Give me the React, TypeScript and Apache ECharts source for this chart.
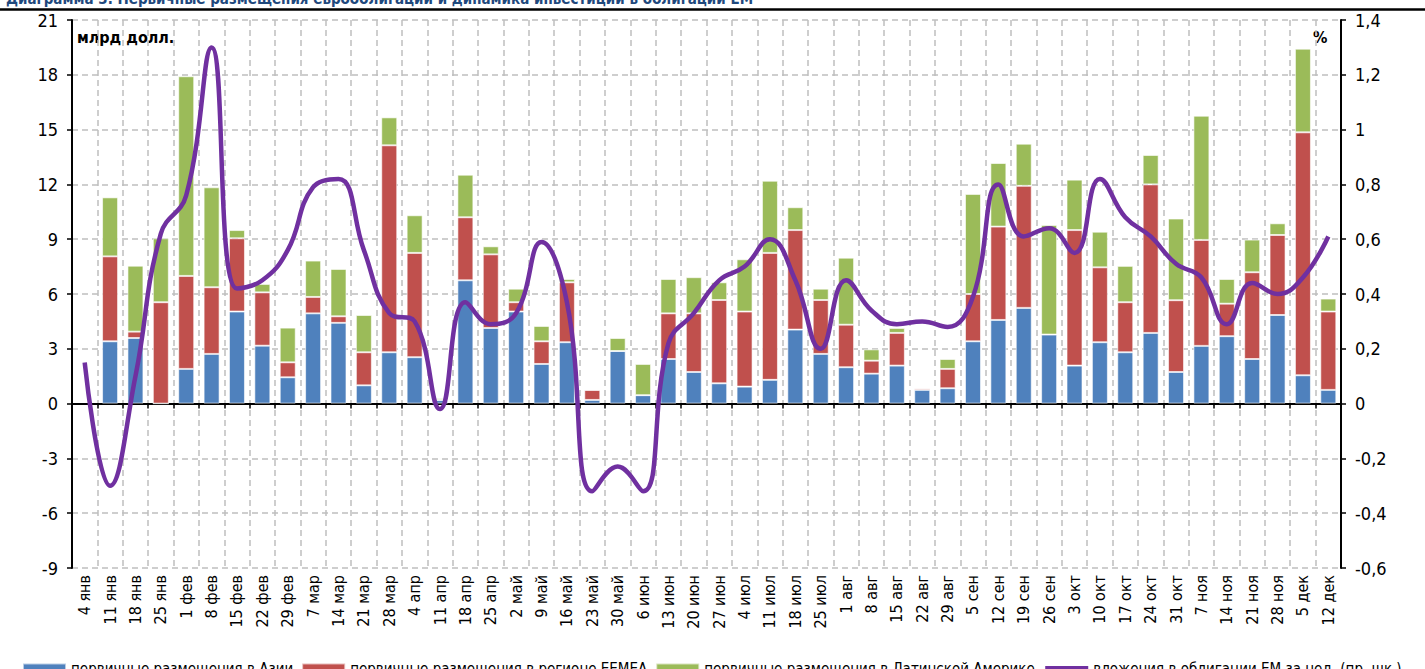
import React, { useEffect, useRef } from "react";
import * as echarts from "echarts";

const categories = ["4 янв","11 янв","18 янв","25 янв","1 фев","8 фев","15 фев","22 фев","29 фев","7 мар","14 мар","21 мар","28 мар","4 апр","11 апр","18 апр","25 апр","2 май","9 май","16 май","23 май","30 май","6 июн","13 июн","20 июн","27 июн","4 июл","11 июл","18 июл","25 июл","1 авг","8 авг","15 авг","22 авг","29 авг","5 сен","12 сен","19 сен","26 сен","3 окт","10 окт","17 окт","24 окт","31 окт","7 ноя","14 ноя","21 ноя","28 ноя","5 дек","12 дек"];

const asia = [null,3.41,3.59,0,1.90,2.72,5.04,3.17,1.44,4.94,4.42,1.00,2.81,2.54,0.20,6.75,4.14,5.04,2.17,3.36,0.20,2.88,0.46,2.44,1.73,1.11,0.93,1.30,4.05,2.72,1.99,1.64,2.08,0.75,0.84,3.41,4.58,5.24,3.78,2.08,3.36,2.81,3.87,1.73,3.16,3.69,2.44,4.85,1.55,0.75];

const eemea = [null,4.65,0.35,5.55,5.09,3.65,4.01,2.92,0.82,0.90,0.36,1.81,11.33,5.71,0,3.45,4.03,0.51,1.24,3.28,0.55,0,0,2.50,3.21,4.56,4.11,6.95,5.45,2.95,2.33,0.71,1.79,0.09,1.06,2.59,5.11,6.68,0,7.42,4.10,2.74,8.13,3.93,5.80,1.78,4.75,4.38,13.30,4.29];

const latam = [null,3.23,3.61,3.50,10.93,5.47,0.45,0.46,1.90,1.99,2.59,2.04,1.53,2.06,0.09,2.33,0.44,0.74,0.84,0.18,0,0.71,1.71,1.88,1.98,0.97,2.86,3.95,1.25,0.62,3.67,0.62,0.27,0,0.54,5.48,3.48,2.31,6.00,2.76,1.95,1.99,1.61,4.47,6.80,1.35,1.79,0.64,4.58,0.71];

const emFlows = [0.15,-0.30,0.10,0.62,0.76,1.30,0.42,0.45,0.56,0.79,0.82,0.56,0.33,0.30,-0.02,0.37,0.29,0.33,0.59,0.37,-0.32,-0.23,-0.32,0.22,0.33,0.45,0.50,0.60,0.45,0.20,0.45,0.34,0.29,0.30,0.28,0.39,0.80,0.61,0.64,0.55,0.82,0.68,0.61,0.51,0.46,0.29,0.44,0.40,0.46,0.61];

const seriesNames = [
  "первичные размещения в Азии",
  "первичные размещения в регионе EEMEA",
  "первичные размещения в Латинской Америке",
  "вложения в облигации EM за нед. (пр. шк.)",
];

const FONT = "'Liberation Sans Narrow', 'DejaVu Sans Condensed', 'Roboto Condensed', sans-serif";

export default function App() {
  const ref = useRef<HTMLDivElement>(null);
  useEffect(() => {
    document.body.style.margin = "0";
    if (!ref.current) return;
    const chart = echarts.init(ref.current, null, { renderer: "svg" });
    const dashed = { color: "#BFBFBF", type: [6, 4] as any, width: 1.5 };
    const barBase = {
      type: "bar",
      stack: "total",
      xAxisIndex: 0,
      yAxisIndex: 0,
      barWidth: "63%",
    };
    chart.setOption({
      animation: false,
      textStyle: { fontFamily: FONT },
      grid: { left: 72, right: 84, top: 20, bottom: 101 },
      legend: {
        left: 17,
        top: 656,
        itemWidth: 43,
        itemHeight: 10,
        itemGap: 8,
        textStyle: { fontSize: 15, color: "#000", fontFamily: FONT },
        data: [
          { name: seriesNames[0], icon: "rect" },
          { name: seriesNames[1], icon: "rect" },
          { name: seriesNames[2], icon: "rect" },
          { name: seriesNames[3], itemStyle: { opacity: 0 }, lineStyle: { width: 5, color: "#7030A0" } },
        ],
      },
      graphic: [
        {
          type: "text",
          left: 6,
          top: -9,
          style: {
            text: "Диаграмма 3. Первичные размещения еврооблигаций и динамика инвестиций в облигации EM",
            fill: "#1F497D",
            font: "bold 15px " + FONT,
          },
        },
        {
          type: "line",
          shape: { x1: 0, y1: 9.5, x2: 1425, y2: 9.5 },
          style: { stroke: "#000", lineWidth: 2.5 },
        },
        {
          type: "text",
          left: 77,
          top: 29,
          style: { text: "млрд долл.", fill: "#000", font: "bold 16px " + FONT },
        },
        {
          type: "text",
          left: 1313,
          top: 29,
          style: { text: "%", fill: "#000", font: "bold 16px " + FONT },
        },
      ],
      xAxis: [
        {
          type: "category",
          data: categories,
          position: "bottom",
          axisLine: { show: true, onZero: true, lineStyle: { color: "#000", width: 2 } },
          axisTick: { show: true, interval: 0, length: 5, lineStyle: { color: "#000", width: 1.5 } },
          axisLabel: { show: false },
          splitLine: { show: false },
        },
        {
          type: "category",
          data: categories,
          position: "bottom",
          axisLine: { show: false, onZero: false },
          axisTick: { show: false },
          axisLabel: { show: true, interval: 0, rotate: 90, fontSize: 16, color: "#000", margin: 7, fontFamily: FONT },
          splitLine: { show: true, interval: 0, lineStyle: dashed },
        },
      ],
      yAxis: [
        {
          type: "value",
          min: -9,
          max: 21,
          interval: 3,
          position: "left",
          axisLine: { show: true, lineStyle: { color: "#000", width: 2 } },
          axisTick: { show: true, length: 5, lineStyle: { color: "#000", width: 1.5 } },
          axisLabel: { fontSize: 18, color: "#000", margin: 14, fontFamily: FONT },
          splitLine: { show: true, lineStyle: dashed },
        },
        {
          type: "value",
          min: -0.6,
          max: 1.4,
          interval: 0.2,
          position: "right",
          axisLine: { show: true, lineStyle: { color: "#000", width: 2 } },
          axisTick: { show: true, length: 5, lineStyle: { color: "#000", width: 1.5 } },
          axisLabel: {
            fontSize: 18,
            color: "#000",
            margin: 14,
            fontFamily: FONT,
            formatter: (v: number) => String(Math.round(v * 10) / 10).replace(".", ","),
          },
          splitLine: { show: false },
        },
      ],
      series: [
        {
          ...barBase,
          name: seriesNames[0],
          data: asia,
          itemStyle: { color: "#4F81BD", borderColor: "rgba(255,255,255,0.6)", borderWidth: 1 },
        },
        {
          ...barBase,
          name: seriesNames[1],
          data: eemea,
          itemStyle: { color: "#C0504D", borderColor: "rgba(255,255,255,0.6)", borderWidth: 1 },
        },
        {
          ...barBase,
          name: seriesNames[2],
          data: latam,
          itemStyle: { color: "#9BBB59", borderColor: "rgba(255,255,255,0.6)", borderWidth: 1 },
        },
        {
          type: "line",
          name: seriesNames[3],
          xAxisIndex: 0,
          yAxisIndex: 1,
          data: emFlows,
          smooth: 0.45,
          symbol: "none",
          lineStyle: { color: "#7030A0", width: 4.5 },
          itemStyle: { color: "#7030A0" },
          z: 5,
        },
      ],
    });
    return () => chart.dispose();
  }, []);
  return <div ref={ref} style={{ width: 1425, height: 669 }} />;
}
